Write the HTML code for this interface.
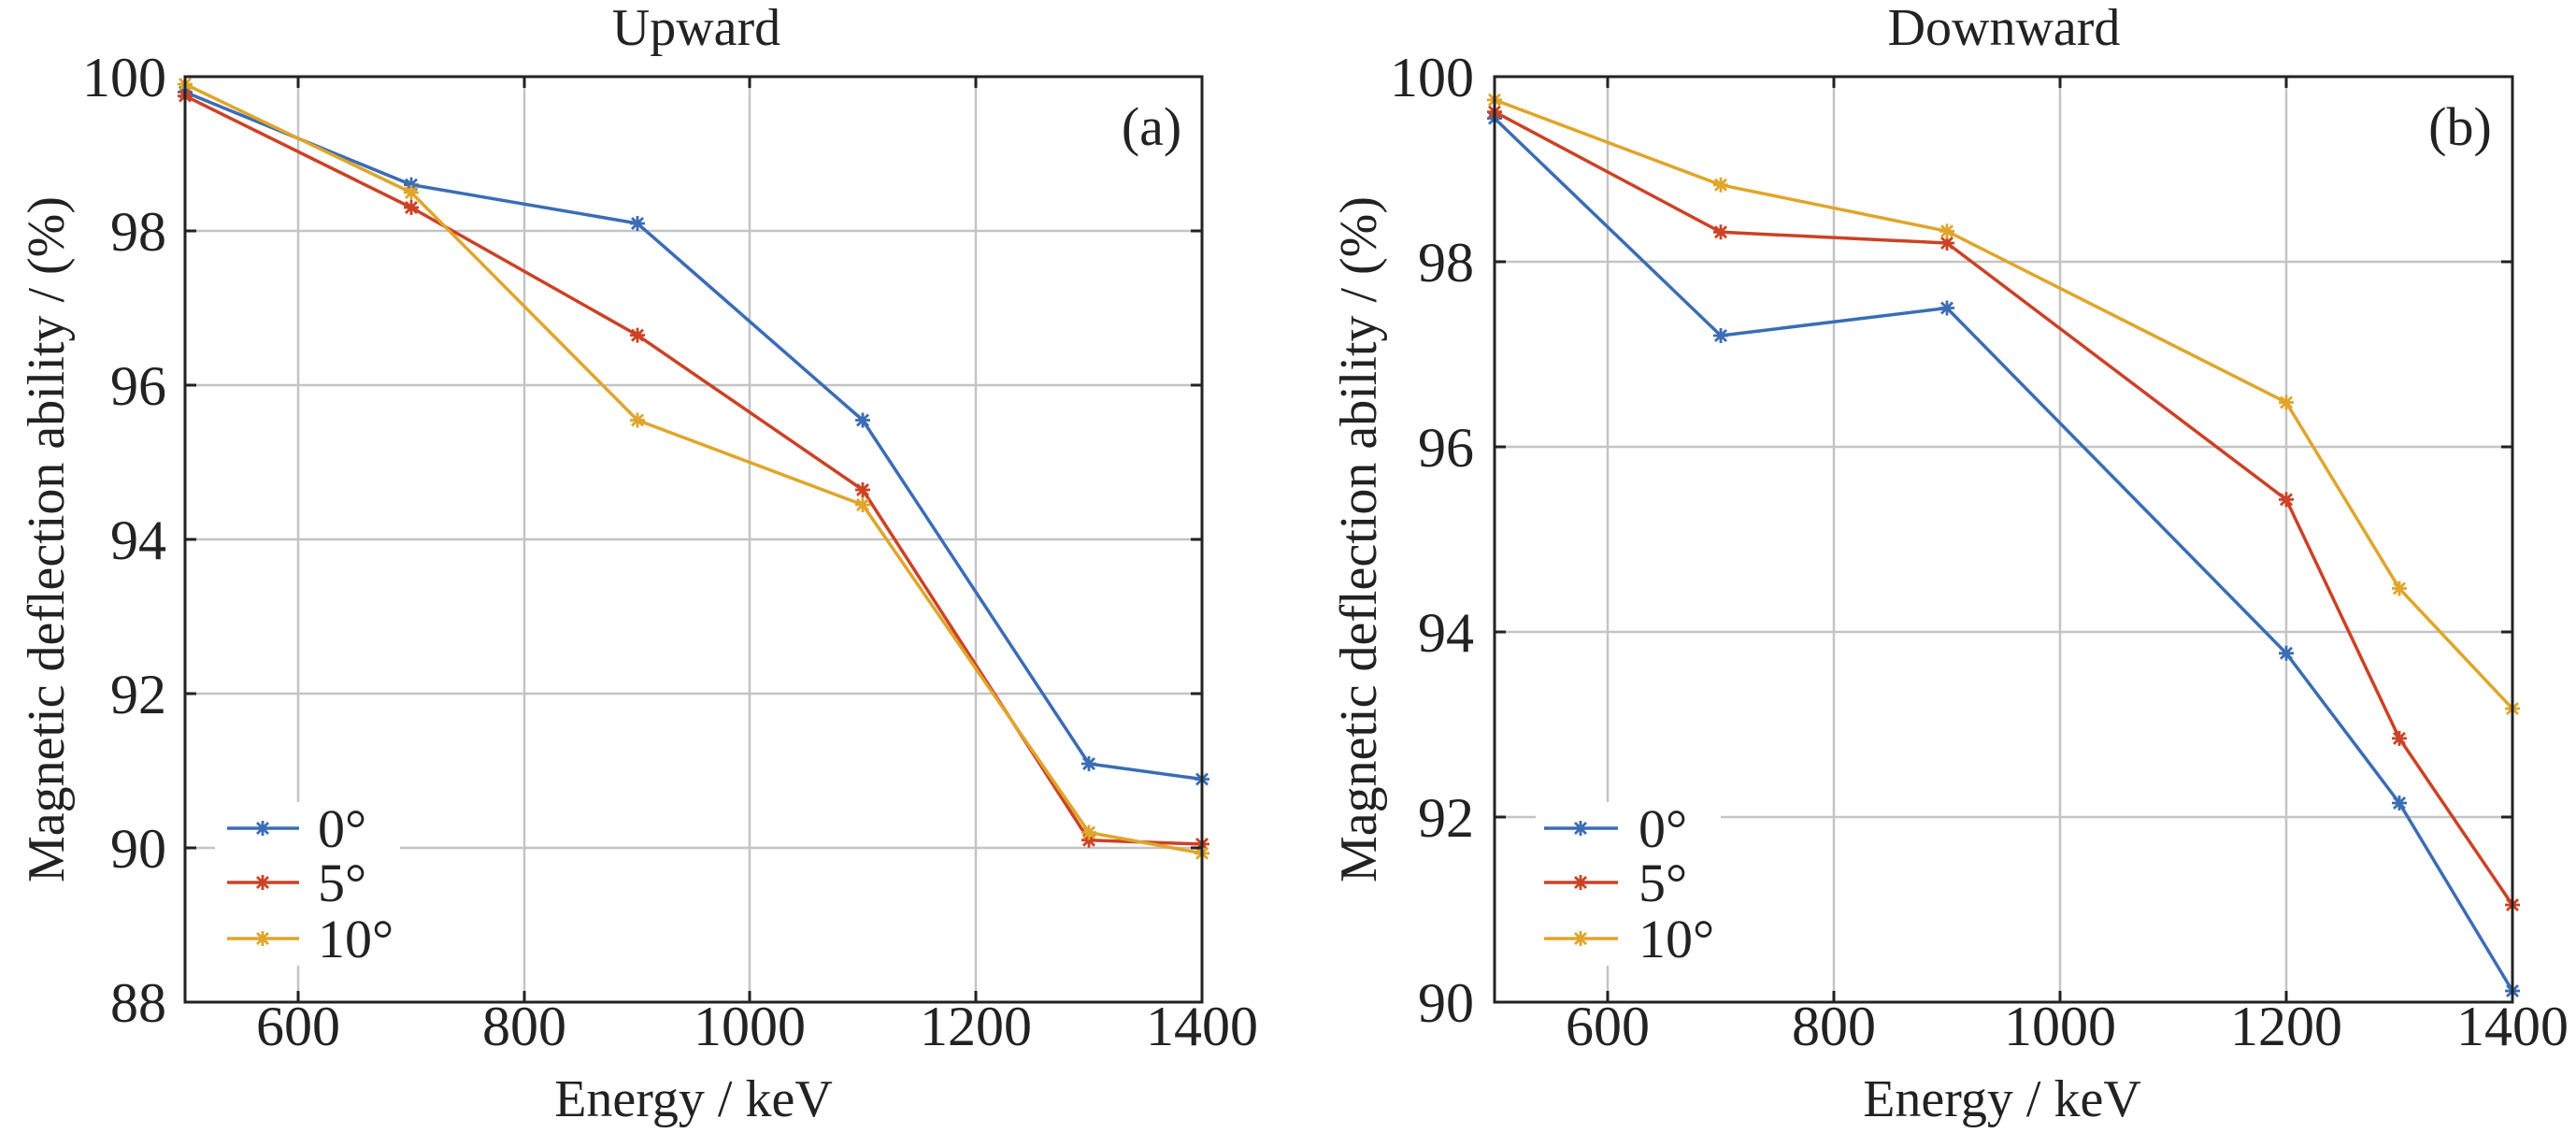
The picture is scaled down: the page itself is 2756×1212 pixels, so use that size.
<!DOCTYPE html>
<html><head><style>body{margin:0;background:#fff}svg{display:block}</style></head><body>
<svg width="2756" height="1212" viewBox="0 0 2756 1212" xmlns="http://www.w3.org/2000/svg" style="font-family:'Liberation Serif',serif" fill="#222">
<defs>
<marker id="mb" viewBox="-10 -10 20 20" markerWidth="20" markerHeight="20" markerUnits="userSpaceOnUse"><path d="M-8 0H8M0-8V8M-6-6L6 6M-6 6L6-6" stroke="#3a6db5" stroke-width="2.8"/></marker>
<marker id="mr" viewBox="-10 -10 20 20" markerWidth="20" markerHeight="20" markerUnits="userSpaceOnUse"><path d="M-8 0H8M0-8V8M-6-6L6 6M-6 6L6-6" stroke="#cc4225" stroke-width="2.8"/></marker>
<marker id="my" viewBox="-10 -10 20 20" markerWidth="20" markerHeight="20" markerUnits="userSpaceOnUse"><path d="M-8 0H8M0-8V8M-6-6L6 6M-6 6L6-6" stroke="#e0a52a" stroke-width="2.8"/></marker>
</defs>
<g stroke="#c4c4c4" stroke-width="2.5">
<path d="M319 82V1072M561 82V1072M802 82V1072M1044 82V1072M198 247H1286M198 412H1286M198 577H1286M198 742H1286M198 907H1286"/>
<path d="M1720 82V1072M1962 82V1072M2204 82V1072M2446 82V1072M1599 280H2688M1599 478H2688M1599 676H2688M1599 874H2688"/>
</g>
<g fill="none" stroke-width="3.5" stroke-linejoin="round">
<polyline stroke="#3a6db5" marker-start="url(#mb)" marker-mid="url(#mb)" marker-end="url(#mb)" points="198,98.5 440,197.6 682,239 923,449.5 1165,817 1286,833.5"/>
<polyline stroke="#cc4225" marker-start="url(#mr)" marker-mid="url(#mr)" marker-end="url(#mr)" points="198,102.6 440,222 682,358.6 923,524 1165,898.7 1286,903"/>
<polyline stroke="#e0a52a" marker-start="url(#my)" marker-mid="url(#my)" marker-end="url(#my)" points="198,90 440,206 682,449.5 923,540 1165,890.5 1286,912.8"/>
<polyline stroke="#3a6db5" marker-start="url(#mb)" marker-mid="url(#mb)" marker-end="url(#mb)" points="1599,126.6 1841,359 2083,329.5 2446,698.8 2567,859 2688,1060"/>
<polyline stroke="#cc4225" marker-start="url(#mr)" marker-mid="url(#mr)" marker-end="url(#mr)" points="1599,119.6 1841,248.3 2083,260 2446,534.4 2567,789.9 2688,968"/>
<polyline stroke="#e0a52a" marker-start="url(#my)" marker-mid="url(#my)" marker-end="url(#my)" points="1599,106.8 1841,197.8 2083,247.3 2446,430.5 2567,629.5 2688,758"/>
</g>
<g stroke="#222" stroke-width="3" fill="none">
<rect x="198" y="82" width="1088" height="990"/>
<path d="M198 247h12M198 412h12M198 577h12M198 742h12M198 907h12M1286 247h-12M1286 412h-12M1286 577h-12M1286 742h-12M1286 907h-12M319 1072v-12M561 1072v-12M802 1072v-12M1044 1072v-12M319 82v12M561 82v12M802 82v12M1044 82v12"/>
<rect x="1599" y="82" width="1089" height="990"/>
<path d="M1599 280h12M1599 478h12M1599 676h12M1599 874h12M2688 280h-12M2688 478h-12M2688 676h-12M2688 874h-12M1720 1072v-12M1962 1072v-12M2204 1072v-12M2446 1072v-12M1720 82v12M1962 82v12M2204 82v12M2446 82v12"/>
</g>
<rect x="230" y="858" width="198" height="175" fill="#fff"/>
<g stroke-width="3.5"><path d="M243 886h77" stroke="#3a6db5"/><path d="M243 944h77" stroke="#cc4225"/><path d="M243 1004h77" stroke="#e0a52a"/></g>
<path d="M281 878v16M273 886h16M275 880l12 12M275 892l12-12" stroke="#3a6db5" stroke-width="2.8"/>
<path d="M281 936v16M273 944h16M275 938l12 12M275 950l12-12" stroke="#cc4225" stroke-width="2.8"/>
<path d="M281 996v16M273 1004h16M275 998l12 12M275 1010l12-12" stroke="#e0a52a" stroke-width="2.8"/>
<g font-size="58"><text x="340" y="906">0°</text><text x="340" y="964">5°</text><text x="340" y="1024">10°</text></g>
<rect x="1643" y="858" width="198" height="175" fill="#fff"/>
<g stroke-width="3.5"><path d="M1652 886h79" stroke="#3a6db5"/><path d="M1652 944h79" stroke="#cc4225"/><path d="M1652 1004h79" stroke="#e0a52a"/></g>
<path d="M1691 878v16M1683 886h16M1685 880l12 12M1685 892l12-12" stroke="#3a6db5" stroke-width="2.8"/>
<path d="M1691 936v16M1683 944h16M1685 938l12 12M1685 950l12-12" stroke="#cc4225" stroke-width="2.8"/>
<path d="M1691 996v16M1683 1004h16M1685 998l12 12M1685 1010l12-12" stroke="#e0a52a" stroke-width="2.8"/>
<g font-size="58"><text x="1753" y="906">0°</text><text x="1753" y="964">5°</text><text x="1753" y="1024">10°</text></g>
<g font-size="60" text-anchor="end">
<text x="178" y="103">100</text><text x="178" y="268">98</text><text x="178" y="433">96</text><text x="178" y="598">94</text><text x="178" y="763">92</text><text x="178" y="928">90</text><text x="178" y="1093">88</text>
<text x="1577" y="103">100</text><text x="1577" y="301">98</text><text x="1577" y="499">96</text><text x="1577" y="697">94</text><text x="1577" y="895">92</text><text x="1577" y="1093">90</text>
</g>
<g font-size="60" text-anchor="middle">
<text x="319" y="1118">600</text><text x="561" y="1118">800</text><text x="802" y="1118">1000</text><text x="1044" y="1118">1200</text><text x="1286" y="1118">1400</text>
<text x="1720" y="1118">600</text><text x="1962" y="1118">800</text><text x="2204" y="1118">1000</text><text x="2446" y="1118">1200</text><text x="2688" y="1118">1400</text>
</g>
<g font-size="56" text-anchor="middle">
<text x="745" y="48">Upward</text><text x="2144" y="48">Downward</text>
<text x="742" y="1194">Energy / keV</text><text x="2142" y="1194">Energy / keV</text>
<text transform="translate(68,577) rotate(-90)">Magnetic deflection ability / (%)</text>
<text transform="translate(1472,577) rotate(-90)">Magnetic deflection ability / (%)</text>
</g>
<g font-size="58" text-anchor="middle"><text x="1232" y="155">(a)</text><text x="2632" y="155">(b)</text></g>
</svg>
</body></html>
